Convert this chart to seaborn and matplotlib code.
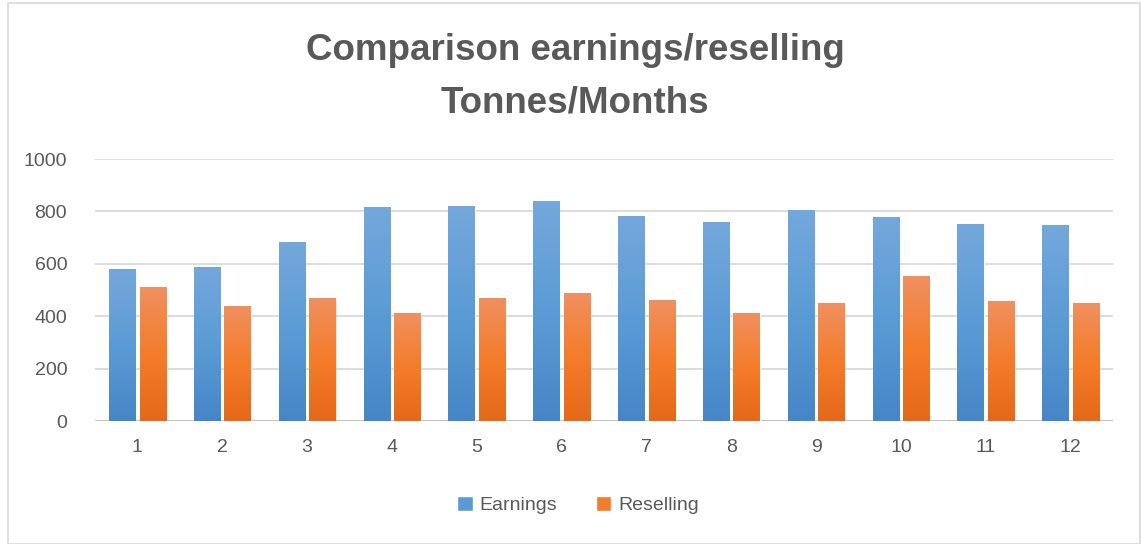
import numpy as np
import pandas as pd
import matplotlib.pyplot as plt
import matplotlib.colors as mcolors
from matplotlib.patches import Rectangle
import seaborn as sns

# chart values
months = [str(m) for m in range(1, 13)]
earnings = [580, 588, 683, 817, 821, 840, 783, 760, 806, 779, 752, 748]
reselling = [511, 439, 469, 412, 469, 488, 461, 412, 450, 553, 458, 450]
series_names = ['Earnings', 'Reselling']
y_ticks = [0, 200, 400, 600, 800, 1000]

df = pd.DataFrame({
    'month': months * 2,
    'value': earnings + reselling,
    'series': [series_names[0]] * 12 + [series_names[1]] * 12,
})

sns.set_style("white")
plt.rcParams['font.family'] = ['Liberation Sans', 'DejaVu Sans']

text_col = '#595959'
blue = '#5b9bd5'
orange = '#f47c2a'
# top -> bottom gradient colours (Excel-like)
grads = {blue: ['#74a8dc', '#5b9bd5', '#4686c7'],
         orange: ['#f09060', '#f47c2a', '#e4691a']}

fig = plt.figure(figsize=(11.41, 5.44), dpi=100)
ax = fig.add_axes([95 / 1141, 1 - 421 / 544, 1018 / 1141, 262 / 544])

sns.barplot(
    data=df, x='month', y='value', hue='series',
    palette=[blue, orange], width=0.72, gap=0.14,
    saturation=1, ax=ax, zorder=3
)

ax.set_ylim(0, 1000)
ax.set_xlim(-0.5, 11.5)
ax.set_yticks(y_ticks)
ax.yaxis.grid(True, color='#d9d9d9', linewidth=1.3, zorder=0)
ax.set_axisbelow(True)
for s in ax.spines.values():
    s.set_visible(False)
ax.axhline(0, color='#bfbfbf', linewidth=1.3, zorder=2)
ax.set_xlabel('')
ax.set_ylabel('')
ax.tick_params(axis='both', length=0, labelsize=14, labelcolor=text_col)
ax.tick_params(axis='x', pad=13)
ax.tick_params(axis='y', pad=20)

# gradient fill clipped to each bar
for i, p in enumerate(ax.patches[:24]):
    key = blue if i < 12 else orange
    cmap = mcolors.LinearSegmentedColormap.from_list('g', grads[key][::-1])
    x0, y0 = p.get_x(), p.get_y()
    w, h = p.get_width(), p.get_height()
    grad = np.linspace(0, 1, 256).reshape(-1, 1)
    im = ax.imshow(grad, cmap=cmap, origin='lower', aspect='auto',
                   extent=[x0, x0 + w, y0, y0 + h], zorder=4)
    im.set_clip_path(p)
    # soft shadow
    ax.add_patch(Rectangle((x0 + 0.012, y0), w, h - 4, facecolor='#000000',
                           alpha=0.09, edgecolor='none', zorder=2.5))
ax.set_xlim(-0.5, 11.5)
ax.set_ylim(0, 1000)

handles, labels = ax.get_legend_handles_labels()
ax.legend_.remove()
fig.legend(handles, labels, loc='center', bbox_to_anchor=(578 / 1141, 1 - 505 / 544),
           ncol=2, frameon=False, fontsize=14, labelcolor=text_col,
           handlelength=0.8, handleheight=0.8, handletextpad=0.35, columnspacing=2.0)

fig.text(575 / 1141, 1 - 50 / 544, 'Comparison earnings/reselling', ha='center', va='center',
         fontsize=26.5, fontweight='bold', color=text_col)
fig.text(575 / 1141, 1 - 103 / 544, 'Tonnes/Months', ha='center', va='center',
         fontsize=26.5, fontweight='bold', color=text_col)

# chart area border
fig.patches.append(Rectangle((8 / 1141, 0), 1 - 9 / 1141, 1 - 3 / 544, transform=fig.transFigure,
                             fill=False, edgecolor='#d9d9d9', linewidth=1.2))

fig.savefig('out.png', dpi=100)
